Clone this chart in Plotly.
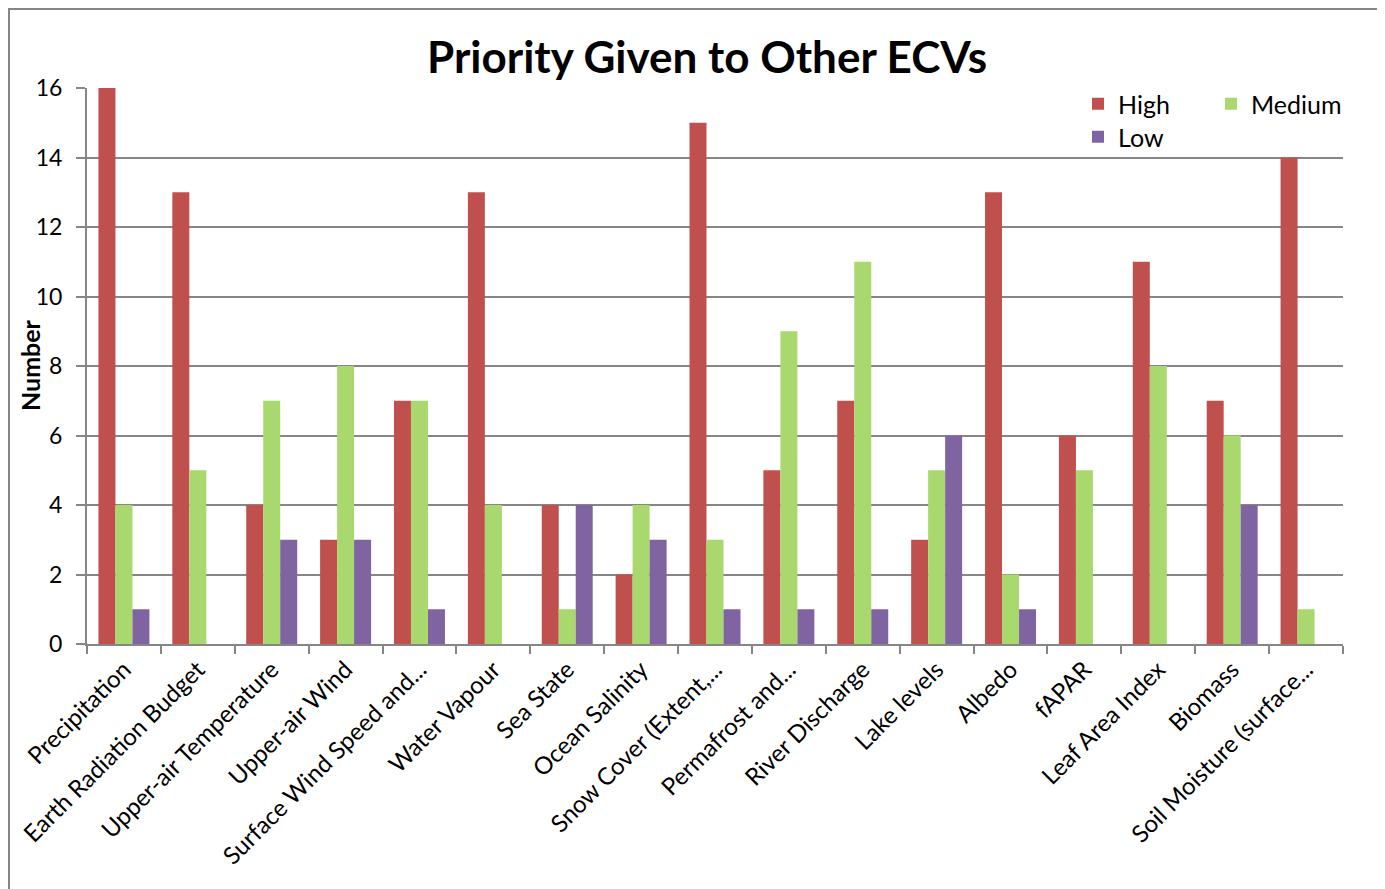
import plotly.graph_objects as go

categories = ["Precipitation", "Earth Radiation Budget", "Upper-air Temperature", "Upper-air Wind",
              "Surface Wind Speed and...", "Water Vapour", "Sea State", "Ocean Salinity",
              "Snow Cover (Extent,...", "Permafrost and...", "River Discharge", "Lake levels",
              "Albedo", "fAPAR", "Leaf Area Index", "Biomass", "Soil Moisture (surface..."]
high = [16, 13, 4, 3, 7, 13, 4, 2, 15, 5, 7, 3, 13, 6, 11, 7, 14]
medium = [4, 5, 7, 8, 7, 4, 1, 4, 3, 9, 11, 5, 2, 5, 8, 6, 1]
low = [1, 0, 3, 3, 1, 0, 4, 3, 1, 1, 1, 6, 1, 0, 0, 4, 0]
y_ticks = [0, 2, 4, 6, 8, 10, 12, 14, 16]

FONT = "Lato"
OFF = 8  # page body margin
W, H = 1385 - OFF, 889 - OFF
# plot area in absolute page px: left 87, right 1343, top 88, bottom 644
L = 87 - OFF
R = W - (1343 - OFF)
T = 88 - OFF
B = H - (644 - OFF)
pw = W - L - R
ph = H - T - B


def px_x(a):
    return (a - OFF - L) / pw


def px_y(a):
    return (H - B - (a - OFF)) / ph


fig = go.Figure()
fig.add_trace(go.Bar(name="High", x=categories, y=high,
                     marker=dict(color="#C0504D", line=dict(width=0)), legend="legend"))
fig.add_trace(go.Bar(name="Medium", x=categories, y=medium,
                     marker=dict(color="#A8D86E", line=dict(width=0)), legend="legend2"))
fig.add_trace(go.Bar(name="Low", x=categories, y=low,
                     marker=dict(color="#8064A2", line=dict(width=0)), legend="legend3"))

leg_common = dict(xanchor="left", yanchor="middle", font=dict(size=25, family=FONT),
                  bgcolor="rgba(0,0,0,0)", itemwidth=30, borderwidth=0)

fig.update_layout(
    width=W, height=H,
    margin=dict(l=L, r=R, t=T, b=B, pad=0),
    paper_bgcolor="white", plot_bgcolor="white",
    barmode="group", bargap=0.31, bargroupgap=0,
    font=dict(family=FONT, color="black", size=23),
    title=dict(text="<b>Priority Given to Other ECVs</b>", x=(707 - OFF) / W, xanchor="center",
               y=1 - (58 - OFF) / H, yanchor="middle", font=dict(size=44, family=FONT)),
    xaxis=dict(tickangle=-45, tickson="boundaries", ticks="outside", ticklen=8, tickcolor="#868686",
               tickwidth=2, showline=True, linecolor="#868686", linewidth=2, showgrid=False,
               tickfont=dict(size=24), automargin=False),
    yaxis=dict(range=[0, 16], tickvals=y_ticks, ticks="outside", ticklen=9, tickcolor="#868686",
               tickwidth=2, showline=True, linecolor="#868686", linewidth=2, showgrid=True,
               gridcolor="#868686", gridwidth=1.5, zeroline=False, tickfont=dict(size=23),
               ticklabelstandoff=9, automargin=False),
    legend=dict(x=px_x(1078), y=px_y(104), **leg_common),
    legend2=dict(x=px_x(1211), y=px_y(104), **leg_common),
    legend3=dict(x=px_x(1078), y=px_y(137), **leg_common),
    showlegend=True,
)

fig.add_annotation(text="<b>Number</b>", textangle=-90, xref="paper", yref="paper",
                   x=px_x(30), y=px_y(365), xanchor="center", yanchor="middle",
                   showarrow=False, font=dict(size=25, family=FONT))

fig.add_shape(type="rect", xref="paper", yref="paper",
              x0=px_x(9), x1=px_x(1385 + 20), y0=px_y(889 + 20), y1=px_y(9),
              line=dict(color="#868686", width=2), fillcolor="rgba(0,0,0,0)", layer="below")

fig.write_html("out.html")
